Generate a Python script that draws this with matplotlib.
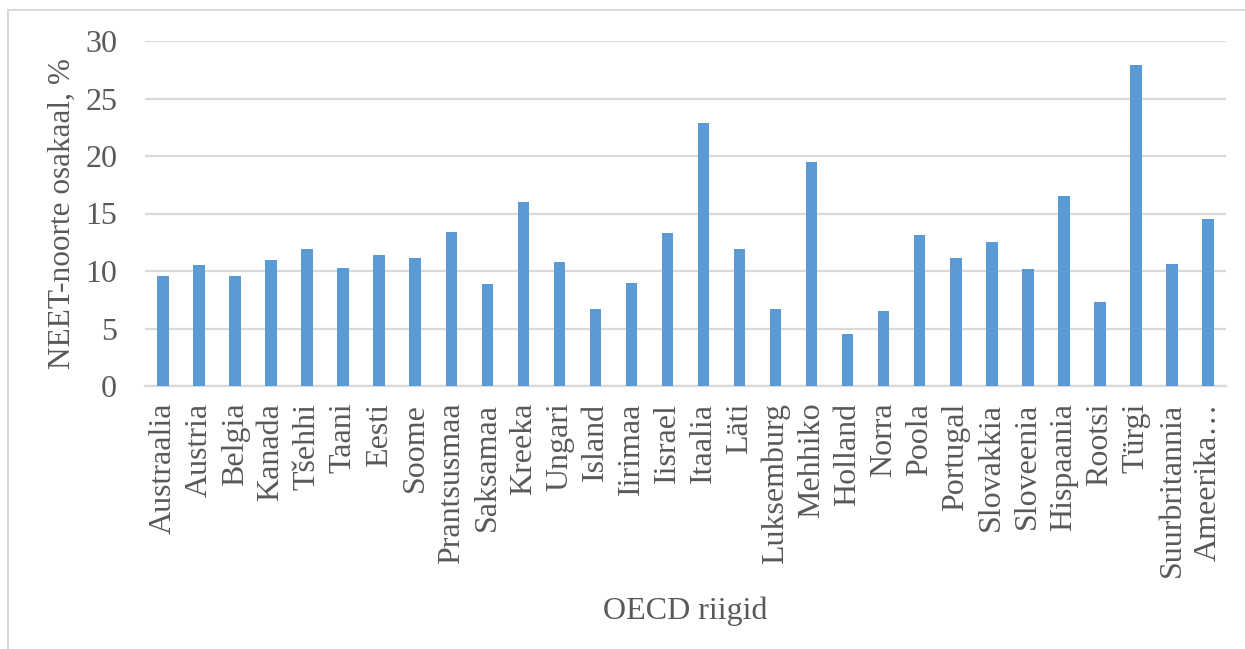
import matplotlib
matplotlib.use("Agg")
import matplotlib.pyplot as plt
from matplotlib.lines import Line2D

countries = ["Austraalia", "Austria", "Belgia", "Kanada", "Tšehhi", "Taani", "Eesti",
             "Soome", "Prantsusmaa", "Saksamaa", "Kreeka", "Ungari", "Island", "Iirimaa",
             "Iisrael", "Itaalia", "Läti", "Luksemburg", "Mehhiko", "Holland", "Norra",
             "Poola", "Portugal", "Slovakkia", "Sloveenia", "Hispaania", "Rootsi", "Türgi",
             "Suurbritannia", "Ameerika…"]
neet = [9.6, 10.5, 9.6, 11.0, 11.9, 10.3, 11.4,
        11.1, 13.4, 8.9, 16.0, 10.8, 6.7, 9.0,
        13.3, 22.9, 11.9, 6.7, 19.5, 4.5, 6.5,
        13.1, 11.1, 12.5, 10.2, 16.5, 7.3, 27.9,
        10.6, 14.5]
yticks = [0, 5, 10, 15, 20, 25, 30]

text_col = "#595959"
grid_col = "#D9D9D9"
bar_col = "#5B9BD5"

plt.rcParams["font.family"] = ["Liberation Serif", "DejaVu Serif"]

W, H = 1245, 649
fig = plt.figure(figsize=(W / 100, H / 100), dpi=100)
ax = fig.add_axes([145 / W, (H - 386) / H, (1226 - 145) / W, (386 - 41) / H])

x = list(range(len(countries)))
ax.bar(x, neet, width=0.32, color=bar_col, zorder=3)

ax.set_xlim(-0.5, len(countries) - 0.5)
ax.set_ylim(0, 30)
ax.set_yticks(yticks)
ax.set_yticklabels([str(v) for v in yticks])
ax.set_xticks(x)
ax.set_xticklabels(countries, rotation=90, va="top", ha="center")

ax.tick_params(axis="y", length=0, pad=20, labelsize=23, labelcolor=text_col)
ax.tick_params(axis="x", length=0, pad=12, labelsize=23, labelcolor=text_col)

ax.grid(axis="y", color=grid_col, linewidth=1.6, zorder=0)
for s in ["top", "right", "left"]:
    ax.spines[s].set_visible(False)
ax.spines["bottom"].set_color(grid_col)
ax.spines["bottom"].set_linewidth(1.6)

ax.set_ylabel("NEET-noorte osakaal, %", fontsize=22.5, color=text_col, labelpad=6)
ax.set_xlabel("OECD riigid", fontsize=23, color=text_col, labelpad=14)

# chart border, partly cropped
fig.add_artist(Line2D([7.5 / W, 7.5 / W], [0, 1 - 10 / H], transform=fig.transFigure,
                      color=grid_col, linewidth=1.5))
fig.add_artist(Line2D([7.5 / W, 1], [1 - 10 / H, 1 - 10 / H], transform=fig.transFigure,
                      color=grid_col, linewidth=1.5))

fig.savefig("out.png", dpi=100)
